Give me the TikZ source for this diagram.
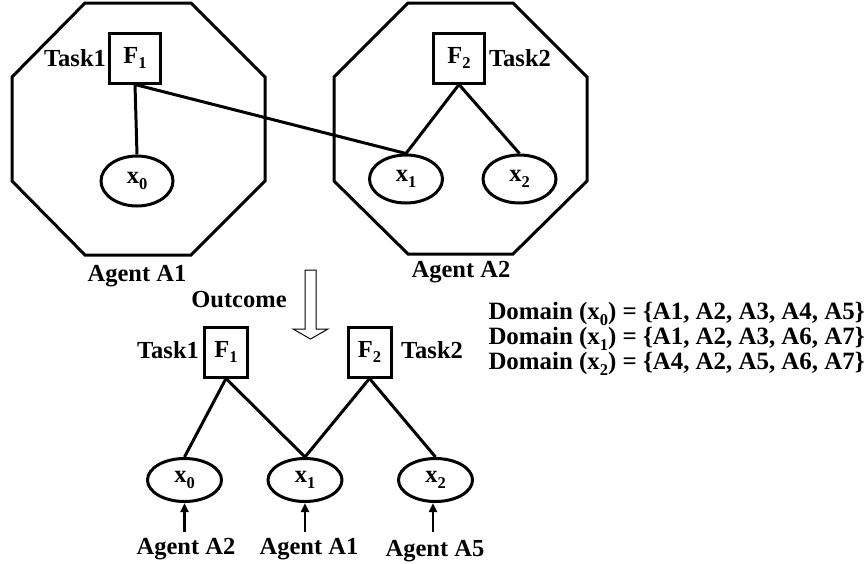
\documentclass[tikz,border=0pt]{standalone}
\usepackage{fontspec}
\setmainfont{Liberation Serif}
\usetikzlibrary{shapes.geometric,arrows.meta}
\newcommand{\lsub}[1]{\raisebox{-0.22em}{\fontsize{16.5}{16.5}\selectfont #1}}
\begin{document}
\begin{tikzpicture}[x=1pt,y=-1pt,
  font=\fontsize{24.5}{25}\selectfont\bfseries,
  line width=3pt,
  box/.style={draw, rectangle, minimum width=51pt, minimum height=50pt, inner sep=0pt},
  boxs/.style={draw, rectangle, minimum width=43pt, minimum height=50pt, inner sep=0pt},
  var/.style={draw, ellipse, inner sep=0pt, minimum width=73pt, minimum height=48pt},
  lbl/.style={inner sep=0pt},
  agentarrow/.style={line width=2.5pt, -{Triangle[length=9pt,width=8pt]}},
  ]
\useasboundingbox (0,0) rectangle (867,563);

% agent octagons
\draw (85,3) -- (191,3) -- (265,77) -- (265,181) -- (191,255) -- (85,255) -- (12,181) -- (12,77) -- cycle;
\draw (408,3) -- (513,3) -- (587,77) -- (587,181) -- (513,254) -- (408,254) -- (334,181) -- (334,77) -- cycle;

% top part
\node[box] (F1t) at (135,58) {F\lsub{1}};
\node[box] (F2t) at (459,58) {F\lsub{2}};
\node[lbl] (T1t) at (75,58) {Task1};
\node[lbl] (T2t) at (520,58) {Task2};
\node[var, minimum width=72pt, minimum height=50pt] (x0t) at (137,181) {x\lsub{0}};
\node[var] (x1t) at (406,179) {x\lsub{1}};
\node[var] (x2t) at (519.5,179) {x\lsub{2}};
\node[lbl] (A1) at (137,276) {Agent A1};
\node[lbl] (A2) at (461,272) {Agent A2};

\draw (F1t.south) -- (x0t.north);
\draw (F1t.south) -- (x1t.north);
\draw (F2t.south) -- (x1t.north);
\draw (F2t.south) -- (x2t.north);

% outcome arrow
\draw[line width=1pt, line join=miter] (305,270) -- (316,270) -- (316,329) -- (328,329) -- (310.5,339) -- (293,329) -- (305,329) -- cycle;
\node[lbl] (out) at (239,300) {Outcome};

% bottom part
\node[boxs] (F1b) at (226,352) {F\lsub{1}};
\node[boxs] (F2b) at (369.5,352) {F\lsub{2}};
\node[lbl] (T1b) at (168,350) {Task1};
\node[lbl] (T2b) at (432,350) {Task2};
\node[var, minimum width=74pt, minimum height=43pt] (x0b) at (184.5,480) {x\lsub{0}};
\node[var, minimum width=74pt, minimum height=43pt] (x1b) at (305,480) {x\lsub{1}};
\node[var, minimum width=74pt, minimum height=43pt] (x2b) at (435.5,480) {x\lsub{2}};

\draw (F1b.south) -- (x0b.north);
\draw (F1b.south) -- (x1b.north);
\draw (F2b.south) -- (x1b.north);
\draw (F2b.south) -- (x2b.north);

\node[lbl] (g0) at (186,549) {Agent A2};
\node[lbl] (g1) at (309,549) {Agent A1};
\node[lbl] (g2) at (435,551) {Agent A5};
\coordinate (s0) at (184.5,532);
\coordinate (s1) at (305,532);
\coordinate (s2) at (433,532);
\draw[agentarrow] (s0) -- (x0b.south);
\draw[agentarrow] (s1) -- (x1b.south);
\draw[agentarrow] (s2) -- (s2 |- x2b.south);

% domains
\begin{scope}[font=\fontsize{24.9}{25}\selectfont\bfseries]
\node[lbl, anchor=west] (d0) at (487,314) {Domain (x\lsub{0}) = \{A1, A2, A3, A4, A5\}};
\node[lbl, anchor=west] (d1) at (487,339) {Domain (x\lsub{1}) = \{A1, A2, A3, A6, A7\}};
\node[lbl, anchor=west] (d2) at (487,364) {Domain (x\lsub{2}) = \{A4, A2, A5, A6, A7\}};
\end{scope}
\end{tikzpicture}
\end{document}
